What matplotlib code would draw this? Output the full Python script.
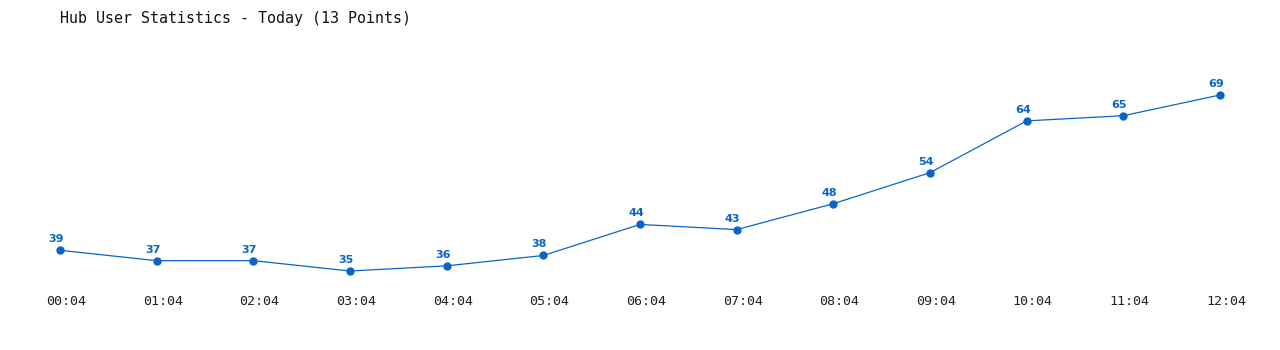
import matplotlib.pyplot as plt
import matplotlib.transforms as mtransforms

times = ["00:04", "01:04", "02:04", "03:04", "04:04", "05:04", "06:04",
         "07:04", "08:04", "09:04", "10:04", "11:04", "12:04"]
users = [39, 37, 37, 35, 36, 38, 44, 43, 48, 54, 64, 65, 69]

blue = "#0a64c8"

fig = plt.figure(figsize=(12.8, 3.5), dpi=100)
ax = fig.add_axes([60 / 1280, 65 / 350, 1160 / 1280, 225 / 350])

xs = list(range(len(users)))
ax.plot(xs, users, color=blue, linewidth=0.9, marker="o", markersize=5,
        markerfacecolor=blue, markeredgecolor=blue, clip_on=False)

for x, v in zip(xs, users):
    ax.annotate(str(v), (x, v), xytext=(-4, 6), textcoords="offset pixels",
                ha="center", va="bottom", color=blue, fontsize=8,
                fontweight="bold", family="DejaVu Sans")

ax.set_xlim(0, 12)
ax.set_ylim(32.3, 75.76)
ax.set_xticks(xs)
ax.set_xticklabels(times, family="DejaVu Sans Mono", fontsize=9.6, color="#222222")
ax.tick_params(axis="x", length=0, pad=7)
shift = mtransforms.ScaledTranslation(6 / 100, 0, fig.dpi_scale_trans)
for lbl in ax.get_xticklabels():
    lbl.set_transform(lbl.get_transform() + shift)
ax.set_yticks([])
for s in ax.spines.values():
    s.set_visible(False)

fig.text(60 / 1280, 1 - 18 / 350, "Hub User Statistics - Today (13 Points)",
         family="DejaVu Sans Mono", fontsize=10.8, va="center", ha="left",
         color="#111111")

fig.savefig("out.png", dpi=100)
